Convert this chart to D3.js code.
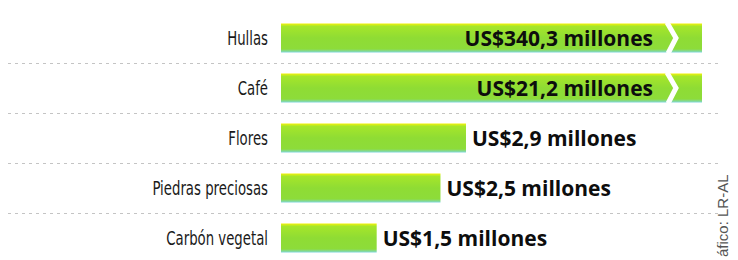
<!DOCTYPE html>
<meta charset="utf-8">
<head>
    <title>Exportaciones</title>
</head>
<style>
  body { margin: 0; background: #fff; }
  .catLabel {
    font-family: "DejaVu Sans", sans-serif;
    font-size: 19px;
    fill: #1a1a1a;
    text-anchor: end;
  }
  .valLabel {
    font: bold 21px "Open Sans", sans-serif;
    fill: #0d0d0d;
  }
  .sep {
    stroke: #c4c4c4;
    stroke-width: 1px;
    stroke-dasharray: 3,4;
  }
  .credit {
    font: 15px "Liberation Sans", sans-serif;
    fill: #555;
  }
</style>
<body>
<script src="https://d3js.org/d3.v7.min.js"></script>
<script>
// data
var categories = ["Hullas", "Café", "Flores", "Piedras preciosas", "Carbón vegetal"];
var values = [340.3, 21.2, 2.9, 2.5, 1.5];   // millones de US$
var valueLabels = ["US$340,3 millones", "US$21,2 millones", "US$2,9 millones",
                   "US$2,5 millones", "US$1,5 millones"];

var width = 738, height = 260;
var margin = {left: 281, top: 13};

var svg = d3.select("body").append("svg")
    .attr("width", width)
    .attr("height", height);

// bar gradient: yellow top edge, green body, cyan bottom edge
var defs = svg.append("defs");
var grad = defs.append("linearGradient")
    .attr("id", "barGrad")
    .attr("x1", 0).attr("y1", 0).attr("x2", 0).attr("y2", 1);
grad.append("stop").attr("offset", "0%").attr("stop-color", "#f2f20a");
grad.append("stop").attr("offset", "10%").attr("stop-color", "#a6e62a");
grad.append("stop").attr("offset", "50%").attr("stop-color", "#8fdc34");
grad.append("stop").attr("offset", "88%").attr("stop-color", "#8ddc3a");
grad.append("stop").attr("offset", "100%").attr("stop-color", "#7ed6d8");

// scales - bars past the max get clipped (broken bars)
var x = d3.scaleLinear()
    .domain([0, 6.6])
    .range([0, 421])
    .clamp(true);

var y = d3.scaleBand()
    .domain(categories)
    .range([margin.top, margin.top + 250])
    .paddingInner(0.42)
    .paddingOuter(0.21);

// dotted separators between rows
var seps = categories.slice(1);
svg.selectAll(".sep")
    .data(seps)
  .enter().append("line")
    .attr("class", "sep")
    .attr("x1", 8)
    .attr("x2", 722)
    .attr("y1", function(d) { return Math.round(y(d) - y.step() * y.paddingInner() / 2) + 0.5; })
    .attr("y2", function(d) { return Math.round(y(d) - y.step() * y.paddingInner() / 2) + 0.5; });

var rows = svg.selectAll(".row")
    .data(categories)
  .enter().append("g")
    .attr("class", "row")
    .attr("transform", function(d) { return "translate(0," + y(d) + ")"; });

rows.append("rect")
    .attr("x", margin.left)
    .attr("y", 0)
    .attr("width", function(d, i) { return x(values[i]); })
    .attr("height", y.bandwidth())
    .attr("fill", "url(#barGrad)");

// white break on the clipped bars
rows.filter(function(d, i) { return values[i] > x.domain()[1]; })
  .append("polyline")
    .attr("points", function() {
      var b = y.bandwidth(), x0 = margin.left + 386;
      return [[x0, -1], [x0 + 9, b * 0.5], [x0 + 1, b + 1]].join(" ");
    })
    .attr("fill", "none")
    .attr("stroke", "#fff")
    .attr("stroke-width", 5);

// category labels, squeezed horizontally to look like a condensed face
rows.append("text")
    .attr("class", "catLabel")
    .attr("transform", "translate(" + (margin.left - 13) + "," + (y.bandwidth() / 2) + ") scale(0.7,1)")
    .attr("dy", "0.36em")
    .text(function(d) { return d; });

rows.append("text")
    .attr("class", "valLabel")
    .attr("x", function(d, i) {
      return values[i] > x.domain()[1] ? margin.left + 372 : margin.left + x(values[i]) + 6;
    })
    .attr("text-anchor", function(d, i) { return values[i] > x.domain()[1] ? "end" : "start"; })
    .attr("y", y.bandwidth() / 2)
    .attr("dy", "0.36em")
    .text(function(d, i) { return valueLabels[i]; });

// credit, rotated at the right edge (start of the word is cut off in the original)
svg.append("text")
    .attr("class", "credit")
    .attr("transform", "translate(728,257) rotate(-90)")
    .attr("text-anchor", "start")
    .text("áfico: LR-AL");
</script>
</body>
